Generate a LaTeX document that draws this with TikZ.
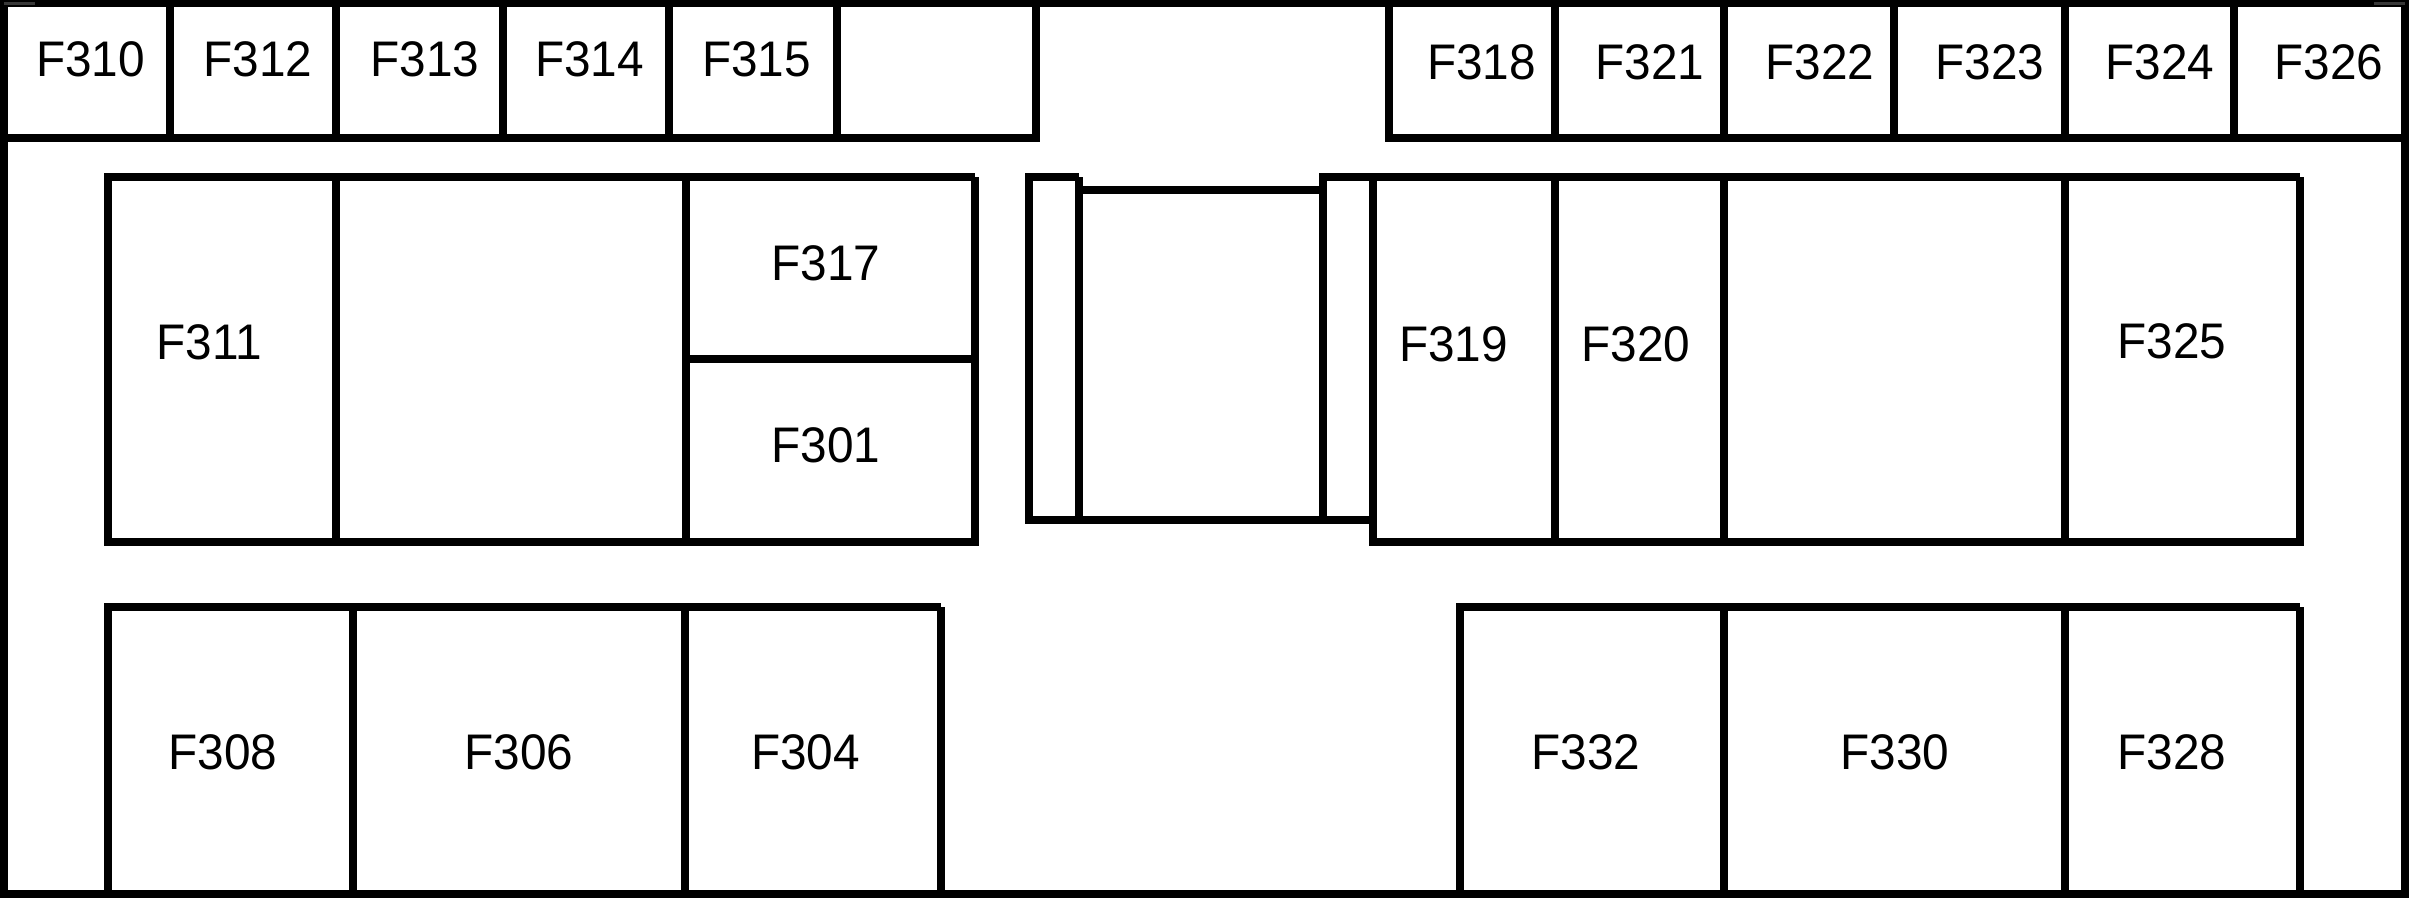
\documentclass[tikz,border=0pt]{standalone}
\usepackage{fontspec}
\setmainfont[FakeStretch=0.955]{Liberation Sans}
\tikzset{
  wall/.style={draw=black,line width=8pt,line cap=butt,line join=miter},
  room/.style={inner sep=0pt,outer sep=0pt,font=\fontsize{50}{60}\selectfont,text=black},
  speck/.style={fill=black!78,draw=none}
}
\begin{document}
\begin{tikzpicture}[x=1pt,y=-1pt]
\useasboundingbox (0,0) rectangle (2409,899);
\fill[white] (0,0) rectangle (2409,899);
% outer frame
\draw[wall] (3.5,3) rectangle (2405,894);
% top row
\draw[wall] (3.5,138) -- (1036,138) -- (1036,3);
\draw[wall] (1389,3) -- (1389,138) -- (2405,138);
\foreach \x in {170,336,503,669,837,1555,1724,1894,2065,2234}
  \draw[wall] (\x,3) -- (\x,138);
% upper-left block
\draw[wall] (975,177) -- (108,177) -- (108,542) -- (975,542) -- (975,177);
\foreach \x in {336,686}
  \draw[wall] (\x,177) -- (\x,542);
\draw[wall] (686,359) -- (975,359);
% centre block
\draw[wall] (1079,177) -- (1029,177) -- (1029,520) -- (1373,520);
\draw[wall] (1079,177) -- (1079,520);
\draw[wall] (1079,190) -- (1323,190);
\draw[wall] (2300,177) -- (1323,177) -- (1323,520);
% upper-right block
\draw[wall] (1373,177) -- (1373,542) -- (2300,542) -- (2300,177);
\foreach \x in {1555,1724,2065}
  \draw[wall] (\x,177) -- (\x,542);
% lower-left block
\draw[wall] (941,607) -- (108,607) -- (108,894);
\draw[wall] (941,607) -- (941,894);
\foreach \x in {353,685}
  \draw[wall] (\x,607) -- (\x,894);
% lower-right block
\draw[wall] (2300,607) -- (1460,607) -- (1460,894);
\draw[wall] (2300,607) -- (2300,894);
\foreach \x in {1724,2065}
  \draw[wall] (\x,607) -- (\x,894);
% specks in the top corners
\fill[speck] (4,2) rectangle (35,5);
\fill[speck] (2374,2) rectangle (2405,5);
% labels
\node[room] (f310) at (90.5,59.5) {F310};
\node[room] (f312) at (258,59.5) {F312};
\node[room] (f313) at (425,59.5) {F313};
\node[room] (f314) at (589.5,59.5) {F314};
\node[room] (f315) at (756.5,59.5) {F315};
\node[room] (f318) at (1481.5,62.5) {F318};
\node[room] (f321) at (1650,62.5) {F321};
\node[room] (f322) at (1820,62.5) {F322};
\node[room] (f323) at (1990,62.5) {F323};
\node[room] (f324) at (2160,62.5) {F324};
\node[room] (f326) at (2329,62.5) {F326};
\node[room] (f311) at (209,342.5) {F311};
\node[room] (f317) at (826,263) {F317};
\node[room] (f301) at (826,445) {F301};
\node[room] (f319) at (1453.5,344) {F319};
\node[room] (f320) at (1636,344) {F320};
\node[room] (f325) at (2172,341) {F325};
\node[room] (f308) at (223,752.5) {F308};
\node[room] (f306) at (519,752.5) {F306};
\node[room] (f304) at (805.5,752.5) {F304};
\node[room] (f332) at (1586,752.5) {F332};
\node[room] (f330) at (1895,752.5) {F330};
\node[room] (f328) at (2172,752.5) {F328};
\end{tikzpicture}
\end{document}
